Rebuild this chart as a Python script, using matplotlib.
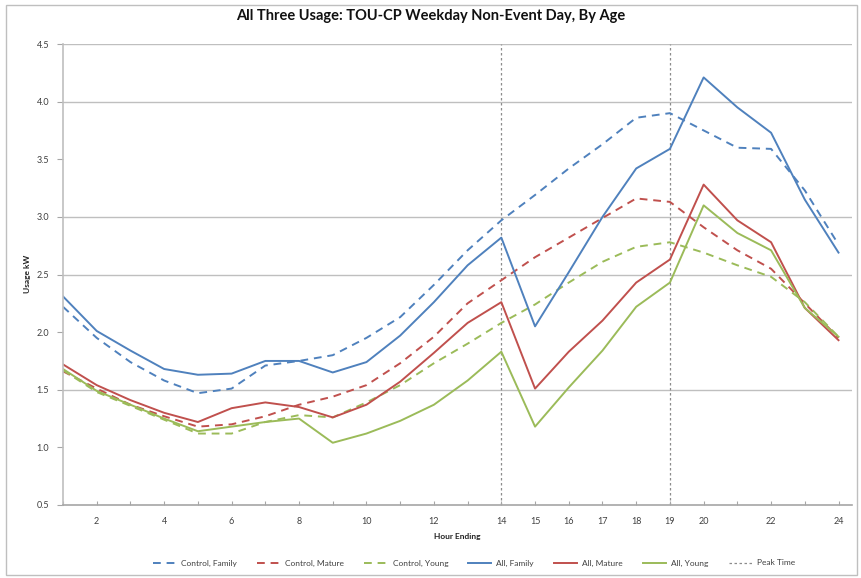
import matplotlib
matplotlib.use('Agg')
import matplotlib.pyplot as plt

plt.rcParams['font.family'] = ['Lato', 'DejaVu Sans']

hours = list(range(1, 25))
tick_labels = {2: '2', 4: '4', 6: '6', 8: '8', 10: '10', 12: '12', 14: '14', 15: '15',
               16: '16', 17: '17', 18: '18', 19: '19', 20: '20', 22: '22', 24: '24'}
peak_hours = [14, 19]

control_family = [2.22, 1.95, 1.74, 1.58, 1.47, 1.51, 1.71, 1.75, 1.80, 1.95, 2.13, 2.41,
                  2.71, 2.97, 3.19, 3.42, 3.63, 3.86, 3.90, 3.75, 3.60, 3.59, 3.23, 2.76]
control_mature = [1.66, 1.51, 1.37, 1.27, 1.18, 1.20, 1.27, 1.37, 1.44, 1.54, 1.73, 1.96,
                  2.25, 2.45, 2.65, 2.82, 2.99, 3.16, 3.13, 2.91, 2.71, 2.55, 2.25, 1.95]
control_young = [1.67, 1.48, 1.36, 1.24, 1.12, 1.12, 1.22, 1.28, 1.26, 1.39, 1.54, 1.73,
                 1.90, 2.08, 2.24, 2.43, 2.61, 2.74, 2.78, 2.69, 2.58, 2.48, 2.26, 1.96]
all_family = [2.31, 2.01, 1.84, 1.68, 1.63, 1.64, 1.75, 1.75, 1.65, 1.74, 1.97, 2.26,
              2.58, 2.82, 2.05, 2.52, 3.00, 3.42, 3.59, 4.21, 3.95, 3.73, 3.15, 2.69]
all_mature = [1.72, 1.54, 1.41, 1.30, 1.22, 1.34, 1.39, 1.35, 1.26, 1.37, 1.57, 1.82,
              2.08, 2.26, 1.51, 1.83, 2.10, 2.43, 2.63, 3.28, 2.97, 2.78, 2.21, 1.93]
all_young = [1.68, 1.49, 1.37, 1.25, 1.14, 1.18, 1.22, 1.25, 1.04, 1.12, 1.23, 1.37,
             1.58, 1.83, 1.18, 1.52, 1.84, 2.22, 2.43, 3.10, 2.86, 2.71, 2.21, 1.96]

blue = '#4F81BD'
red = '#C0504D'
green = '#9BBB59'
dash = (0, (4, 3))

fig = plt.figure(figsize=(8.62, 5.78), dpi=100)
# outer chart border
fig.patches.append(plt.Rectangle((6 / 862, 3 / 578), 851 / 862, 570 / 578,
                                 transform=fig.transFigure, fill=False,
                                 edgecolor='#BFBFBF', linewidth=1.0))
ax = fig.add_axes([63 / 862, 73 / 578, (852 - 63) / 862, (505 - 44) / 578])

for v in [1.5, 2.5, 3.0, 4.0, 4.5]:
    ax.axhline(v, color='#BFBFBF', lw=1.0, zorder=0)

lw = 1.4
ax.plot(hours, control_family, color=blue, lw=lw, ls=dash, label='Control, Family')
ax.plot(hours, control_mature, color=red, lw=lw, ls=dash, label='Control, Mature')
ax.plot(hours, control_young, color=green, lw=lw, ls=dash, label='Control, Young')
ax.plot(hours, all_family, color=blue, lw=lw, label='All, Family')
ax.plot(hours, all_mature, color=red, lw=lw, label='All, Mature')
ax.plot(hours, all_young, color=green, lw=lw, label='All, Young')
for i, h in enumerate(peak_hours):
    ax.axvline(h, color='#8C8C8C', lw=0.9, ls=(0, (2, 2)),
               label='Peak Time' if i == 0 else None, zorder=1)

ax.set_xlim(1, 24.4)
ax.set_ylim(0.5, 4.5)
ax.set_xticks(hours)
ax.set_xticklabels([tick_labels.get(h, '') for h in hours])
ax.set_yticks([0.5, 1.0, 1.5, 2.0, 2.5, 3.0, 3.5, 4.0, 4.5])
ax.set_yticklabels(['%.1f' % v for v in ax.get_yticks()])
ax.tick_params(axis='x', direction='in', length=3, color='#A6A6A6', labelsize=6.5,
               labelcolor='#404040', pad=9)
ax.tick_params(axis='y', direction='out', length=4, color='#A6A6A6', labelsize=6.5,
               labelcolor='#404040', pad=6)
for s in ['top', 'right']:
    ax.spines[s].set_visible(False)
ax.spines['left'].set_color('#BFBFBF')
ax.spines['bottom'].set_color('#A6A6A6')
ax.spines['left'].set_linewidth(1.2)
ax.spines['bottom'].set_linewidth(1.2)

fig.text(0.5, 1 - 16 / 578, 'All Three Usage: TOU-CP Weekday Non-Event Day, By Age',
         ha='center', va='center', fontsize=10.5, color='#111111', fontweight='bold')
fig.text(28 / 862, 1 - 274 / 578, 'Usage kW', rotation=90, ha='center', va='center',
         fontsize=6, color='#222222', fontweight='bold')
fig.text(457 / 862, 1 - 537 / 578, 'Hour Ending', ha='center', va='center',
         fontsize=6, color='#222222', fontweight='bold')

handles, labels = ax.get_legend_handles_labels()
fig.legend(handles, labels, loc='center', bbox_to_anchor=(474 / 862, 1 - 563 / 578),
           ncol=7, frameon=False, fontsize=6, handlelength=2.8, columnspacing=2.4,
           handletextpad=0.6, labelcolor='#404040')

fig.savefig('out.png', dpi=100)
